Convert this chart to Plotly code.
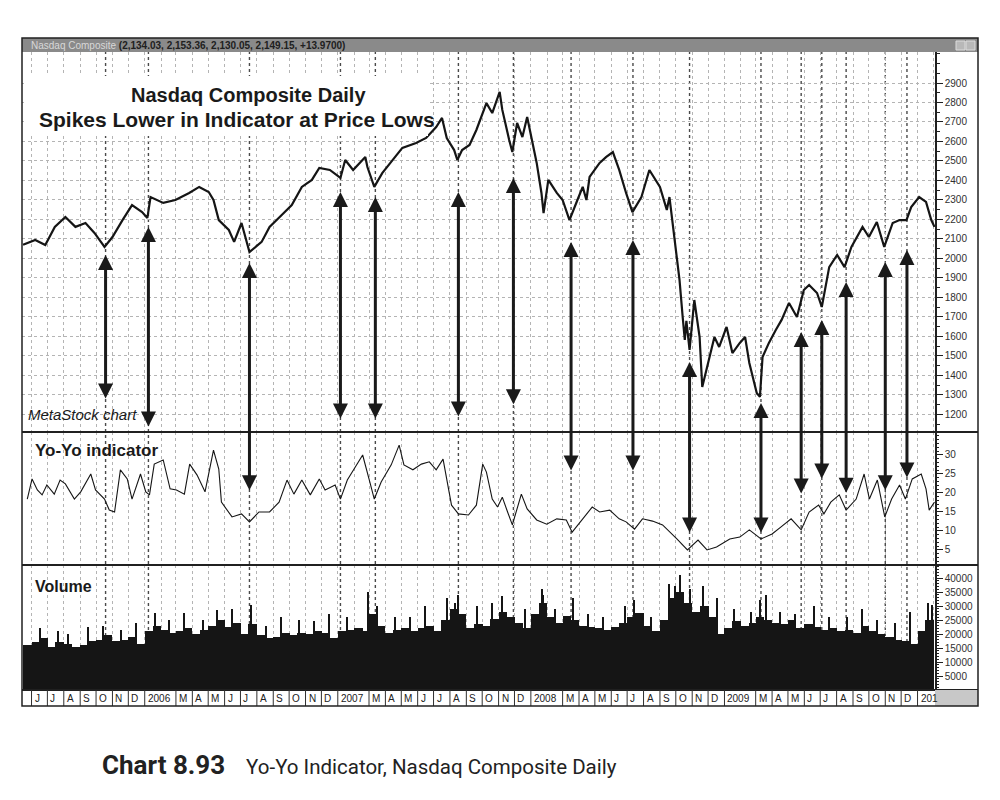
import plotly.graph_objects as go
from plotly.subplots import make_subplots

# ------------------------------------------------------------------ data
price_dates = [
    "2005-05-16", "2005-06-08", "2005-06-27", "2005-07-15", "2005-08-04", "2005-08-23", "2005-09-11",
    "2005-09-28", "2005-10-17", "2005-11-01", "2005-11-20", "2005-12-08", "2005-12-27",
    "2006-01-06", "2006-01-12", "2006-02-05", "2006-02-28", "2006-03-26", "2006-04-14", "2006-05-02",
    "2006-05-11", "2006-05-21", "2006-06-09", "2006-06-19", "2006-07-03", "2006-07-18", "2006-08-10",
    "2006-08-25", "2006-09-17", "2006-10-06", "2006-10-25", "2006-11-13", "2006-11-27", "2006-12-17",
    "2007-01-06", "2007-01-15", "2007-01-30", "2007-02-22", "2007-02-26", "2007-03-11", "2007-03-26",
    "2007-04-14", "2007-05-03", "2007-05-29", "2007-06-17", "2007-07-06", "2007-07-17", "2007-07-26",
    "2007-08-09", "2007-08-15", "2007-08-24", "2007-09-07", "2007-09-20", "2007-10-09", "2007-10-20",
    "2007-11-03", "2007-11-08", "2007-11-21", "2007-11-27", "2007-12-06", "2007-12-16", "2007-12-25",
    "2008-01-03", "2008-01-12", "2008-01-21", "2008-01-25", "2008-02-03", "2008-02-19", "2008-03-01",
    "2008-03-14", "2008-03-29", "2008-04-08", "2008-04-15", "2008-04-21", "2008-05-10", "2008-05-22",
    "2008-06-04", "2008-06-16", "2008-06-29", "2008-07-11", "2008-07-28", "2008-08-12", "2008-09-01",
    "2008-09-14", "2008-09-19", "2008-09-25", "2008-10-02", "2008-10-08", "2008-10-14", "2008-10-18",
    "2008-10-21", "2008-10-27", "2008-11-05", "2008-11-15", "2008-11-20", "2008-12-04", "2008-12-13",
    "2008-12-22",
    "2009-01-05", "2009-01-16", "2009-01-30", "2009-02-09", "2009-02-17", "2009-03-03", "2009-03-09",
    "2009-03-14", "2009-03-26", "2009-04-08", "2009-04-19", "2009-05-03", "2009-05-18", "2009-05-31",
    "2009-06-10", "2009-06-25", "2009-07-04", "2009-07-18", "2009-08-02", "2009-08-16", "2009-08-29",
    "2009-09-19", "2009-10-01", "2009-10-16", "2009-10-30", "2009-11-15", "2009-11-28", "2009-12-11",
    "2009-12-20",
    "2010-01-04", "2010-01-17", "2010-01-27", "2010-02-02",
]
price_values = [
    2070, 2095, 2069, 2162, 2213, 2162, 2182, 2131, 2059, 2110, 2197, 2274, 2238,
    2208, 2315, 2285, 2300, 2336, 2367, 2341, 2300, 2197, 2146, 2085, 2182, 2033, 2085, 2162, 2223,
    2274, 2367, 2403, 2464, 2454,
    2413, 2505, 2454, 2520, 2469, 2367, 2438, 2505, 2567, 2592, 2618, 2674, 2721, 2618, 2556, 2505,
    2556, 2582, 2659, 2797, 2746, 2854, 2762, 2608, 2546, 2695, 2623, 2726,
    2608, 2490, 2336, 2233, 2403, 2336, 2300, 2197, 2300, 2367, 2300, 2418, 2490, 2520, 2546, 2454,
    2336, 2238, 2315, 2454, 2367, 2249, 2315, 2182, 2008, 1890, 1700, 1582, 1680, 1531, 1787, 1597,
    1341, 1495, 1597, 1546,
    1649, 1515, 1567, 1597, 1464, 1310, 1290, 1495, 1567, 1633, 1685, 1772, 1700, 1838, 1864, 1823,
    1751, 1956, 2018, 1956, 2059, 2162, 2110, 2187, 2059, 2182, 2197, 2197, 2264,
    2315, 2290, 2197, 2162,
]

ind_dates = [
    "2005-05-24", "2005-06-02", "2005-06-12", "2005-06-21", "2005-06-30", "2005-07-14", "2005-07-25",
    "2005-08-04", "2005-08-21", "2005-09-02", "2005-09-21", "2005-09-30", "2005-10-17", "2005-10-26",
    "2005-11-05", "2005-11-16", "2005-11-29", "2005-12-08", "2005-12-24",
    "2006-01-03", "2006-01-10", "2006-01-19", "2006-02-05", "2006-02-18", "2006-03-02", "2006-03-17",
    "2006-03-27", "2006-04-10", "2006-04-25", "2006-05-11", "2006-05-21", "2006-05-26", "2006-06-15",
    "2006-07-03", "2006-07-18", "2006-08-05", "2006-08-25", "2006-09-12", "2006-09-27", "2006-10-10",
    "2006-10-25", "2006-11-10", "2006-11-27", "2006-12-08", "2006-12-27",
    "2007-01-06", "2007-01-19", "2007-01-28", "2007-02-17", "2007-03-01", "2007-03-11", "2007-03-24",
    "2007-04-12", "2007-04-27", "2007-05-06", "2007-05-23", "2007-06-08", "2007-06-23", "2007-07-06",
    "2007-07-19", "2007-08-04", "2007-08-17", "2007-09-05", "2007-09-20", "2007-10-02", "2007-10-09",
    "2007-10-20", "2007-10-30", "2007-11-08", "2007-11-18", "2007-11-27", "2007-12-14", "2007-12-25",
    "2008-01-12", "2008-01-31", "2008-02-19", "2008-03-08", "2008-03-19", "2008-04-08", "2008-04-26",
    "2008-05-10", "2008-05-29", "2008-06-16", "2008-06-29", "2008-07-15", "2008-07-30", "2008-08-18",
    "2008-09-06", "2008-10-03", "2008-10-23", "2008-11-12", "2008-11-29", "2008-12-17",
    "2009-01-11", "2009-01-30", "2009-02-17", "2009-03-11", "2009-04-01", "2009-04-18", "2009-05-07",
    "2009-05-26", "2009-06-10", "2009-06-28", "2009-07-08", "2009-07-21", "2009-08-06", "2009-08-19",
    "2009-09-07", "2009-09-22", "2009-10-02", "2009-10-17", "2009-10-31", "2009-11-13", "2009-11-28",
    "2009-12-09", "2009-12-22",
    "2010-01-08", "2010-01-17", "2010-01-23", "2010-02-02",
]
ind_values = [
    18.4, 23.7, 20.8, 19.5, 22.1, 19.7, 23.4, 22.4, 18.4, 20.3, 25.0, 20.8, 18.4, 15.5, 15.0, 26.1,
    23.7, 18.4, 25.0,
    20.3, 19.5, 27.6, 28.7, 21.1, 20.8, 19.7, 27.6, 24.7, 20.3, 31.3, 26.3, 17.6, 13.7, 14.5, 12.4,
    15.0, 15.0, 17.6, 23.4, 19.7, 23.4, 19.5, 23.7, 20.8, 22.1,
    18.4, 23.4, 25.5, 30.0, 23.7, 18.4, 22.9, 27.4, 32.6, 27.4, 26.1, 27.6, 28.2, 26.1, 28.9, 16.8,
    14.5, 14.2, 16.8, 27.6, 25.5, 18.4, 16.3, 18.9, 15.0, 11.6, 19.7, 15.8,
    12.9, 11.8, 13.2, 12.9, 9.7, 13.2, 16.3, 15.0, 15.5, 13.2, 12.4, 10.5, 13.2, 12.6, 11.6, 7.9,
    5.0, 7.6, 5.0, 5.8,
    7.9, 8.4, 10.3, 7.9, 9.2, 11.1, 13.2, 10.3, 15.0, 16.8, 14.5, 17.6, 19.5, 15.5, 18.4, 25.0,
    18.4, 23.4, 13.7, 18.4, 22.1, 18.4, 23.7,
    25.0, 21.1, 15.5, 17.6,
]

# volume, read on the 1st and 16th of each month (first bar 16 May 2005)
vol_values = [
    16000, 17000, 18500, 15500, 17000, 16500, 15500, 16000, 17500, 18000, 19500, 17500, 18000, 19000, 16500,
    21000, 23000, 21500, 20500, 21000, 22000, 20000, 21500, 23000, 25000, 22500, 24000,
    20000, 23500, 19500, 18500, 19000, 20500, 19500, 20500, 20000, 21000, 20500, 18500,
    21000, 21500, 22000, 21000, 27000, 23000, 20500, 21500, 22000, 21000, 22000, 23000,
    21000, 25000, 29000, 27000, 22000, 23500, 23000, 25500, 28000, 26000, 24000, 22000,
    27000, 31000, 26000, 24000, 26500, 25000, 23000, 22500, 22000, 21500, 22500, 24000,
    26000, 27500, 23000, 21000, 25000, 33000, 35000, 31000, 28000, 30000, 26000, 20000,
    22000, 24500, 23000, 24000, 26000, 25000, 24000, 23500, 25000, 22000, 23500, 22500,
    21500, 22000, 21000, 21500, 20500, 23000, 21000, 20000, 19000, 18000, 17500, 16500,
    21000, 25000,
]
vol_dates = ["2005-05-16"] + [
    f"{y}-{m:02d}-{d:02d}"
    for y, m in [(2005, mm) for mm in range(6, 13)] + [(yy, mm) for yy in range(2006, 2010) for mm in range(1, 13)] + [(2010, 1)]
    for d in (1, 16)
]

spike_dates = [
    "2005-06-17", "2005-07-22", "2005-08-10", "2005-09-16", "2005-10-14", "2005-11-18", "2005-12-16",
    "2006-01-20", "2006-02-17", "2006-03-17", "2006-04-21", "2006-05-18", "2006-06-16", "2006-07-21",
    "2006-08-18", "2006-09-15", "2006-10-20", "2006-11-17", "2006-12-15",
    "2007-01-19", "2007-02-27", "2007-03-16", "2007-04-20", "2007-05-18", "2007-06-15", "2007-07-26",
    "2007-08-10", "2007-08-16", "2007-09-21", "2007-10-19", "2007-11-08", "2007-12-21",
    "2008-01-22", "2008-01-24", "2008-02-15", "2008-03-20", "2008-04-18", "2008-05-16", "2008-06-27",
    "2008-07-15", "2008-08-15", "2008-09-18", "2008-09-29", "2008-10-10", "2008-10-28", "2008-11-21",
    "2008-12-19",
    "2009-01-20", "2009-02-20", "2009-03-10", "2009-03-20", "2009-04-17", "2009-05-15", "2009-06-19",
    "2009-07-17", "2009-08-21", "2009-09-18", "2009-10-16", "2009-11-20", "2009-12-18",
    "2010-01-22", "2010-01-29",
]
spike_values = [
    22000, 21000, 20000, 22500, 23000, 21500, 24000,
    27500, 25000, 27500, 25000, 28500, 29000, 30500, 23000, 26000, 25000, 24500, 27000,
    26000, 35000, 30000, 26000, 26000, 30000, 33000, 31000, 34000, 30000, 31000, 33500, 29000,
    36000, 34000, 29000, 33000, 27000, 26000, 30000, 32000, 26000, 38000, 37000, 41000, 36000, 37000,
    33000,
    29000, 28000, 32000, 34000, 28000, 27000, 30000, 26000, 26000, 29000, 25000, 24000, 28000,
    31000, 30500,
]

# double-headed arrows: date, price at the upper tip, value at the lower tip, panel of the lower tip
arrow_dates = ["2005-10-19", "2006-01-08", "2006-07-18", "2007-01-06", "2007-03-13", "2007-08-17",
               "2007-11-29", "2008-03-17", "2008-07-12", "2008-10-27", "2009-03-11", "2009-05-26",
               "2009-07-04", "2009-08-19", "2009-11-01", "2009-12-12"]
arrow_top = [2018, 2162, 1977, 2341, 2315, 2341, 2413, 2085, 2095, 1469, 1259, 1623, 1685, 1879, 1982, 2044]
arrow_bottom = [1274, 1130, 20.3, 1172, 1172, 1182, 1244, 25.5, 25.5, 9.2, 9.2, 19.5, 23.4, 19.7, 20.3, 23.7]
arrow_panel = ["price", "price", "ind", "price", "price", "price", "price", "ind", "ind", "ind",
               "ind", "ind", "ind", "ind", "ind", "ind"]

month_starts = [f"{y}-{m:02d}-01" for y, m in [(2005, mm) for mm in range(6, 13)]
                + [(yy, mm) for yy in range(2006, 2010) for mm in range(1, 13)] + [(2010, 1)]]
month_labels = (["J", "J", "A", "S", "O", "N", "D"]
                + ["2006", "", "M", "A", "M", "J", "J", "A", "S", "O", "N", "D"]
                + ["2007", "", "M", "A", "M", "J", "J", "A", "S", "O", "N", "D"]
                + ["2008", "", "M", "A", "M", "J", "J", "A", "S", "O", "N", "D"]
                + ["2009", "", "M", "A", "M", "J", "J", "A", "S", "O", "N", "D"]
                + ["201"])

price_ticks = [1200, 1300, 1400, 1500, 1600, 1700, 1800, 1900, 2000, 2100, 2200, 2300, 2400, 2500,
               2600, 2700, 2800, 2900]
ind_ticks = [5, 10, 15, 20, 25, 30]
vol_ticks = [5000, 10000, 15000, 20000, 25000, 30000, 35000, 40000]

title_bar_name = "Nasdaq Composite"
title_bar_values = "(2,134.03, 2,153.36, 2,130.05, 2,149.15, +13.9700)"

# ------------------------------------------------------------------ layout constants
PL, PR, PT, PB = 22, 935, 52, 690          # plot area in page pixels
PW, PH = PR - PL, PB - PT
X_RANGE = ["2005-05-14", "2010-02-03"]
PRICE_RANGE = [1110, 3059]
IND_RANGE = [1.05, 36.05]
VOL_RANGE = [0, 44650]
ROW_PX = [380, 133, 125]
DAY_MS = 86400000
FONT = "Liberation Sans, Arial, sans-serif"


def px_x(p):
    return (p - PL) / PW


def px_y(p):
    return (PB - p) / PH


VOL_DOM = [0, ROW_PX[2] / PH]
IND_DOM = [VOL_DOM[1], (ROW_PX[2] + ROW_PX[1]) / PH]
PRICE_DOM = [IND_DOM[1], 1]


def to_paper(v, rng, dom):
    return dom[0] + (v - rng[0]) / (rng[1] - rng[0]) * (dom[1] - dom[0])


fig = make_subplots(rows=3, cols=1, shared_xaxes=True, vertical_spacing=0, row_heights=ROW_PX)

fig.add_trace(go.Scatter(x=price_dates, y=price_values, mode="lines",
                         line=dict(color="#151515", width=2.2), hoverinfo="skip"), row=1, col=1)
fig.add_trace(go.Scatter(x=ind_dates, y=ind_values, mode="lines",
                         line=dict(color="#151515", width=1.1), hoverinfo="skip"), row=2, col=1)
fig.add_trace(go.Bar(x=vol_dates, y=vol_values, marker=dict(color="#151515", line=dict(width=0)),
                     width=16 * DAY_MS, offset=0, hoverinfo="skip"), row=3, col=1)
fig.add_trace(go.Bar(x=spike_dates, y=spike_values, marker=dict(color="#151515", line=dict(width=0)),
                     width=2.5 * DAY_MS, hoverinfo="skip"), row=3, col=1)

fig.update_xaxes(range=X_RANGE, type="date", showticklabels=False, ticks="", showgrid=True,
                 gridcolor="#b4b4b4", griddash="dot", gridwidth=1, dtick="M1", tick0="2005-06-01",
                 zeroline=False, showline=False)

axis_common = dict(side="right", showline=True, linecolor="#202020", linewidth=1.5, ticks="outside",
                   ticklen=6, tickcolor="#202020", tickwidth=1, zeroline=False, tickformat="d",
                   tickfont=dict(family=FONT, size=10, color="#303030"))
fig.update_yaxes(range=PRICE_RANGE, tickmode="array", tickvals=price_ticks, showgrid=True,
                 gridcolor="#b4b4b4", griddash="dot", gridwidth=1,
                 minor=dict(dtick=50, tick0=0, ticklen=3, ticks="outside", tickcolor="#202020", showgrid=False),
                 row=1, col=1, **axis_common)
fig.update_yaxes(range=IND_RANGE, tickmode="array", tickvals=ind_ticks, showgrid=False,
                 minor=dict(dtick=1, tick0=0, ticklen=2, ticks="outside", tickcolor="#202020", showgrid=False),
                 row=2, col=1, **axis_common)
fig.update_yaxes(range=VOL_RANGE, tickmode="array", tickvals=vol_ticks, showgrid=False,
                 minor=dict(dtick=1000, tick0=0, ticklen=2, ticks="outside", tickcolor="#202020", showgrid=False),
                 row=3, col=1, **axis_common)

shapes = []
# dotted vertical markers at the arrow dates
for d in arrow_dates:
    shapes.append(dict(type="line", xref="x", yref="paper", x0=d, x1=d, y0=0, y1=1,
                       line=dict(color="#4a4a4a", width=1.4, dash="dot"), layer="below"))
# white box behind the heading
shapes.append(dict(type="rect", xref="paper", yref="paper", x0=px_x(24), x1=px_x(428), y0=px_y(136),
                   y1=px_y(76), fillcolor="white", line=dict(width=0), layer="above"))
# panel separators
for yb in (PRICE_DOM[0], IND_DOM[0], 0):
    shapes.append(dict(type="line", xref="paper", yref="paper", x0=0, x1=px_x(978), y0=yb, y1=yb,
                       line=dict(color="#202020", width=1.8), layer="above"))
# title bar
shapes.append(dict(type="rect", xref="paper", yref="paper", x0=0, x1=px_x(978), y0=1, y1=px_y(38),
                   fillcolor="#8a8a8a", line=dict(width=0), layer="above"))
for bx in (956, 966):
    shapes.append(dict(type="rect", xref="paper", yref="paper", x0=px_x(bx), x1=px_x(bx + 9),
                       y0=px_y(50), y1=px_y(41), fillcolor="#b8b8b8", line=dict(color="#dcdcdc", width=1),
                       layer="above"))
# grey corner of the date strip
shapes.append(dict(type="rect", xref="paper", yref="paper", x0=1, x1=px_x(978), y0=px_y(706), y1=0,
                   fillcolor="#c8c8c8", line=dict(width=0), layer="above"))
# month separators in the date strip
for d, lab in zip(month_starts, month_labels):
    if lab:
        shapes.append(dict(type="line", xref="x", yref="paper", x0=d, x1=d, y0=px_y(706), y1=0,
                           line=dict(color="#303030", width=1), layer="above"))
# outer frame
shapes.append(dict(type="rect", xref="paper", yref="paper", x0=0, x1=px_x(978), y0=px_y(706),
                   y1=px_y(38), line=dict(color="#202020", width=1.5), layer="above"))

annotations = []
for d, lab in zip(month_starts, month_labels):
    if lab:
        annotations.append(dict(x=d, xref="x", y=px_y(698), yref="paper", text=lab, showarrow=False,
                                xanchor="left", yanchor="middle", xshift=1,
                                font=dict(family=FONT, size=10, color="#202020")))

for d, top, bot, pan in zip(arrow_dates, arrow_top, arrow_bottom, arrow_panel):
    y_top = to_paper(top, PRICE_RANGE, PRICE_DOM)
    y_bot = to_paper(bot, PRICE_RANGE, PRICE_DOM) if pan == "price" else to_paper(bot, IND_RANGE, IND_DOM)
    annotations.append(dict(x=d, xref="x", y=y_top, yref="paper", ax=0, ay=(y_top - y_bot) * PH,
                            axref="pixel", ayref="pixel", text="", showarrow=True,
                            arrowhead=2, startarrowhead=2, arrowside="end+start", arrowsize=1,
                            startarrowsize=1, arrowwidth=3, arrowcolor="#1a1a1a", standoff=0,
                            startstandoff=0))

annotations += [
    dict(x=px_x(248), y=px_y(95), xref="paper", yref="paper", text="<b>Nasdaq Composite Daily</b>",
         showarrow=False, xanchor="center", yanchor="middle", font=dict(family=FONT, size=20, color="#1a1a1a")),
    dict(x=px_x(237), y=px_y(119), xref="paper", yref="paper",
         text="<b>Spikes Lower in Indicator at Price Lows</b>", showarrow=False, xanchor="center",
         yanchor="middle", font=dict(family=FONT, size=21, color="#1a1a1a")),
    dict(x=px_x(26), y=px_y(414), xref="paper", yref="paper", text="<i>MetaStock chart</i>",
         showarrow=False, xanchor="left", yanchor="middle", font=dict(family=FONT, size=15, color="#1a1a1a")),
    dict(x=px_x(33), y=px_y(450), xref="paper", yref="paper", text="<b>Yo-Yo indicator</b>",
         showarrow=False, xanchor="left", yanchor="middle", font=dict(family=FONT, size=17, color="#1a1a1a")),
    dict(x=px_x(33), y=px_y(586), xref="paper", yref="paper", text="<b>Volume</b>",
         showarrow=False, xanchor="left", yanchor="middle", font=dict(family=FONT, size=16, color="#1a1a1a")),
    dict(x=px_x(29), y=px_y(45), xref="paper", yref="paper",
         text=f"<span style='color:#d8d8d8'>{title_bar_name}</span> <b>{title_bar_values}</b>",
         showarrow=False, xanchor="left", yanchor="middle", font=dict(family=FONT, size=10, color="#202020")),
    dict(x=px_x(100), y=px_y(765), xref="paper", yref="paper",
         text="<span style='font-size:26px'><b>Chart 8.93</b></span>\u2003Yo-Yo Indicator, Nasdaq Composite Daily",
         showarrow=False, xanchor="left", yanchor="middle",
         font=dict(family="Roboto, sans-serif", size=20.5, color="#222222")),
]

fig.update_layout(
    width=1000, height=800, autosize=False,
    margin=dict(l=PL, r=1000 - PR, t=PT, b=800 - PB, pad=0),
    paper_bgcolor="white", plot_bgcolor="rgba(0,0,0,0)",
    showlegend=False, barmode="overlay", bargap=0,
    shapes=shapes, annotations=annotations,
)

fig.write_html("out.html")
